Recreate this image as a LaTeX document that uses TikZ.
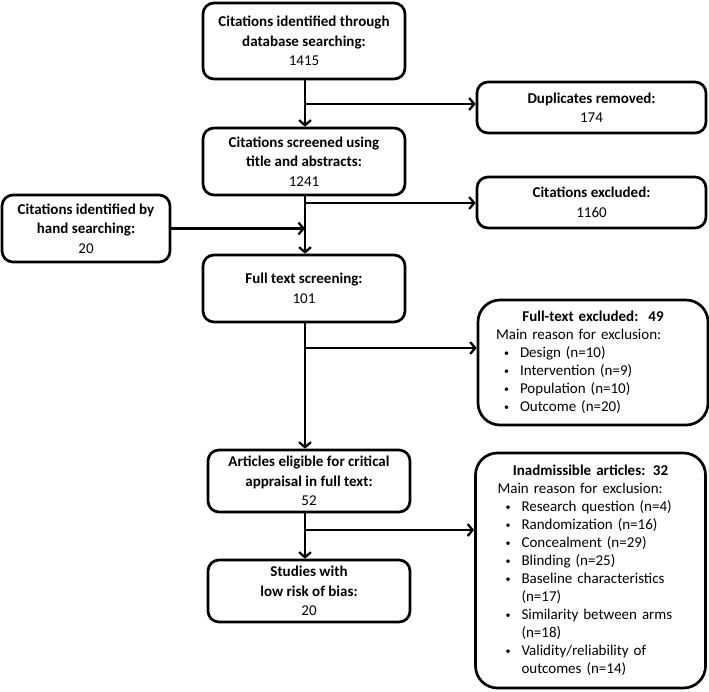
\documentclass[tikz,border=0pt]{standalone}
\usepackage{fontspec}
\setmainfont{Carlito}
\usetikzlibrary{arrows.meta}
\newcommand\bitem{\hspace*{8pt}\makebox[16pt][l]{\raisebox{1pt}{\fontsize{10}{10}\selectfont\textbullet}}}
\newcommand\bcont{\hspace*{24pt}}
\begin{document}
\begin{tikzpicture}[x=1pt,y=-1pt,
  box/.style={draw, line width=2.7pt, rounded corners=11pt, minimum width=202pt, align=center,
    font=\fontsize{15}{19.5}\selectfont\bfseries, inner sep=2pt},
  listbox/.style={draw, line width=2.7pt, rounded corners=22pt,
    font=\fontsize{15}{18}\selectfont},
  conn/.style={line width=2.7pt},
  arr/.style={conn, -{Straight Barb[length=5pt,width=12pt,line width=2.3pt]}}
]
\useasboundingbox (0,0) rectangle (709,691);

\node[box, minimum height=76pt] (b1) at (304,41) {Citations identified through\\database searching:\\\mdseries 1415};
\node[box, minimum height=67pt] (b2) at (304,161.5) {Citations screened using\\title and abstracts:\\\mdseries 1241};
\node[box, minimum width=168pt, minimum height=67pt] (hand) at (86,228.5) {Citations identified by\\hand searching:\\\mdseries 20};
\node[box, minimum width=229pt, minimum height=51pt] (dup) at (591.5,107.5) {Duplicates removed:\\\mdseries 174};
\node[box, minimum width=229pt, minimum height=51pt] (exc) at (591.5,202.5) {Citations excluded:\\\mdseries 1160};
\node[box, minimum height=67pt] (b3) at (304,288.5) {Full text screening:\\\mdseries 101};
\node[box, minimum height=62pt] (b4) at (309,481) {Articles eligible for critical\\appraisal in full text:\\\mdseries 52};
\node[box, minimum height=62pt] (b5) at (309,591) {Studies with\\low risk of bias:\\\mdseries 20};

\node[listbox, text width=194pt, inner xsep=18pt, minimum width=230pt, minimum height=125pt] (ftex) at (593,362.5) {\setlength\parindent{0pt}%
{\centering\bfseries Full-text excluded:\ \ 49\par}
Main reason for exclusion:\par
\bitem Design (n=10)\par
\bitem Intervention (n=9)\par
\bitem Population (n=10)\par
\bitem Outcome (n=20)\par};

\node[listbox, text width=186pt, inner xsep=22pt, minimum width=230pt, minimum height=235pt] (inad) at (590.5,570.5) {\setlength\parindent{0pt}%
{\centering\bfseries Inadmissible articles: 32\par}
Main reason for exclusion:\par
\bitem Research question (n=4)\par
\bitem Randomization (n=16)\par
\bitem Concealment (n=29)\par
\bitem Blinding (n=25)\par
\bitem Baseline characteristics\par
\bcont (n=17)\par
\bitem Similarity between arms\par
\bcont (n=18)\par
\bitem Validity/reliability of\par
\bcont outcomes (n=14)\par};

\coordinate (j1) at (305,104);
\coordinate (j2) at (305,203);
\coordinate (j3) at (305,348);
\coordinate (j4) at (305,530);

\draw[arr] (b1.south -| j1) -- (b2.north -| j1);
\draw[arr] (b2.south -| j1) -- (b3.north -| j1);
\draw[arr] (b3.south -| j1) -- (b4.north -| j1);
\draw[arr] (b4.south -| j1) -- (b5.north -| j1);
\draw[arr] (j1) -- (j1 -| dup.west);
\draw[arr] (j2) -- (j2 -| exc.west);
\draw[arr] (j3) -- (j3 -| ftex.west);
\draw[arr] (j4) -- (j4 -| inad.west);
\draw[arr] (hand.east) -- (hand.east -| j1);
\end{tikzpicture}
\end{document}
